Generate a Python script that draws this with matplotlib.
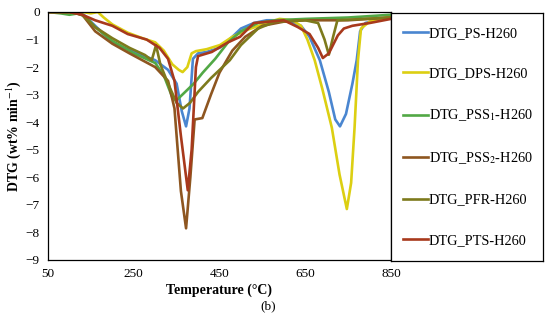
import matplotlib
matplotlib.use("Agg")
import matplotlib.pyplot as plt

plt.rcParams["font.family"] = ["Liberation Serif", "DejaVu Serif"]
plt.rcParams["mathtext.fontset"] = "stix"

t_ps = [50, 100, 130, 160, 200, 250, 300, 330, 350, 362, 372, 380, 388, 400, 420, 450, 480, 500, 530,
        560, 600, 640, 660, 684, 705, 720, 731, 745, 760, 770, 778, 790, 820, 850]
y_ps = [0, 0, -0.05, -0.5, -1.1, -1.45, -1.75, -2.1, -2.6, -3.6, -4.15, -3.5, -1.7, -1.5, -1.45, -1.3, -0.9,
        -0.6, -0.4, -0.3, -0.3, -0.5, -0.9, -1.75, -2.9, -3.9, -4.15, -3.7, -2.6, -1.75, -0.7, -0.4, -0.28, -0.2]

t_dps = [50, 100, 130, 150, 166, 180, 200, 236, 270, 300, 320, 340, 355, 364, 375, 385, 395, 420, 451, 480,
         514, 560, 590, 620, 640, 655, 672, 690, 712, 730, 747, 757, 765, 773, 780, 800, 850]
y_dps = [0, 0, 0, -0.05, 0, -0.2, -0.45, -0.75, -0.95, -1.1, -1.4, -1.9, -2.1, -2.18, -2.0, -1.5, -1.42, -1.35,
         -1.2, -0.9, -0.65, -0.4, -0.25, -0.3, -0.5, -1.0, -1.75, -2.8, -4.2, -5.9, -7.15, -6.2, -4.2, -1.75,
         -0.6, -0.35, -0.15]

t_pss1 = [50, 80, 100, 120, 140, 160, 200, 250, 300, 320, 340, 350, 370, 390, 411, 440, 470, 500, 540,
          580, 650, 750, 850]
y_pss1 = [0, -0.05, -0.1, -0.05, -0.2, -0.55, -1.05, -1.5, -1.85, -2.3, -3.1, -3.2, -2.9, -2.6, -2.2, -1.7,
          -1.1, -0.7, -0.4, -0.3, -0.25, -0.2, -0.1]

t_pss2 = [50, 100, 130, 160, 200, 240, 276, 300, 330, 345, 360, 372, 382, 392, 410, 430, 450, 480, 510, 550,
          600, 650, 700, 750, 850]
y_pss2 = [0, 0, -0.1, -0.7, -1.15, -1.5, -1.8, -2.0, -2.5, -3.5, -6.5, -7.85, -6.0, -3.9, -3.85, -3.0, -2.2,
          -1.4, -0.9, -0.5, -0.35, -0.3, -0.3, -0.3, -0.2]

t_pfr = [50, 100, 130, 160, 200, 240, 276, 292, 302, 312, 330, 350, 365, 381, 400, 430, 474, 500, 540, 580,
         650, 680, 695, 705, 715, 725, 850]
y_pfr = [0, 0, -0.1, -0.55, -0.95, -1.3, -1.56, -1.75, -1.2, -1.9, -2.6, -3.3, -3.5, -3.3, -2.9, -2.4, -1.75,
         -1.2, -0.6, -0.35, -0.3, -0.4, -1.0, -1.55, -0.9, -0.3, -0.2]

t_pts = [50, 100, 130, 160, 200, 236, 280, 310, 330, 345, 360, 376, 385, 395, 400, 432, 470, 498, 530,
         600, 633, 660, 680, 691, 705, 726, 740, 760, 800, 850]
y_pts = [0, 0, -0.1, -0.3, -0.5, -0.8, -1.0, -1.3, -1.7, -2.5, -4.5, -6.47, -5.0, -2.0, -1.6, -1.45, -1.1,
         -0.9, -0.4, -0.3, -0.55, -0.8, -1.3, -1.67, -1.5, -0.85, -0.6, -0.5, -0.4, -0.25]

series = [
    (t_ps, y_ps, "DTG_PS-H260", "#4a86d0"),
    (t_dps, y_dps, "DTG_DPS-H260", "#dccf12"),
    (t_pss1, y_pss1, "DTG_PSS$_1$-H260", "#52a845"),
    (t_pss2, y_pss2, "DTG_PSS$_2$-H260", "#8e5620"),
    (t_pfr, y_pfr, "DTG_PFR-H260", "#7d7a1c"),
    (t_pts, y_pts, "DTG_PTS-H260", "#a8391c"),
]

fig = plt.figure(figsize=(5.5, 3.21), dpi=100)
ax = fig.add_axes([48 / 550, 1 - 260 / 321, (391 - 48) / 550, (260 - 12) / 321])

for t, y, lab, c in series:
    ax.plot(t, y, color=c, lw=1.9, label=lab, solid_joinstyle="round")

ax.set_xlim(50, 850)
ax.set_ylim(-9, 0)
ax.set_xticks([50, 250, 450, 650, 850])
ax.set_yticks(range(-9, 1))
ax.tick_params(length=0, labelsize=9.5, pad=6)
for s in ax.spines.values():
    s.set_linewidth(0.9)
ax.set_xlabel("Temperature (°C)", fontsize=10, fontweight="bold", labelpad=2)
ax.set_ylabel("DTG (wt% min$^{-1}$)", fontsize=10, fontweight="bold", labelpad=2)

# legend box to the right of the plot
lax = fig.add_axes([391 / 550, 1 - 261 / 321, (543 - 391) / 550, (261 - 13) / 321])
lax.set_xticks([])
lax.set_yticks([])
for s in lax.spines.values():
    s.set_linewidth(0.9)
handles, labels = ax.get_legend_handles_labels()
lax.legend(handles, labels, loc="center left", frameon=False, fontsize=10.3,
           handlelength=1.75, handletextpad=0.05, labelspacing=1.9, borderaxespad=0.45)

fig.text(268 / 550, 1 - 306 / 321, "(b)", ha="center", va="center", fontsize=9.5)

fig.savefig("out.png", dpi=100)
